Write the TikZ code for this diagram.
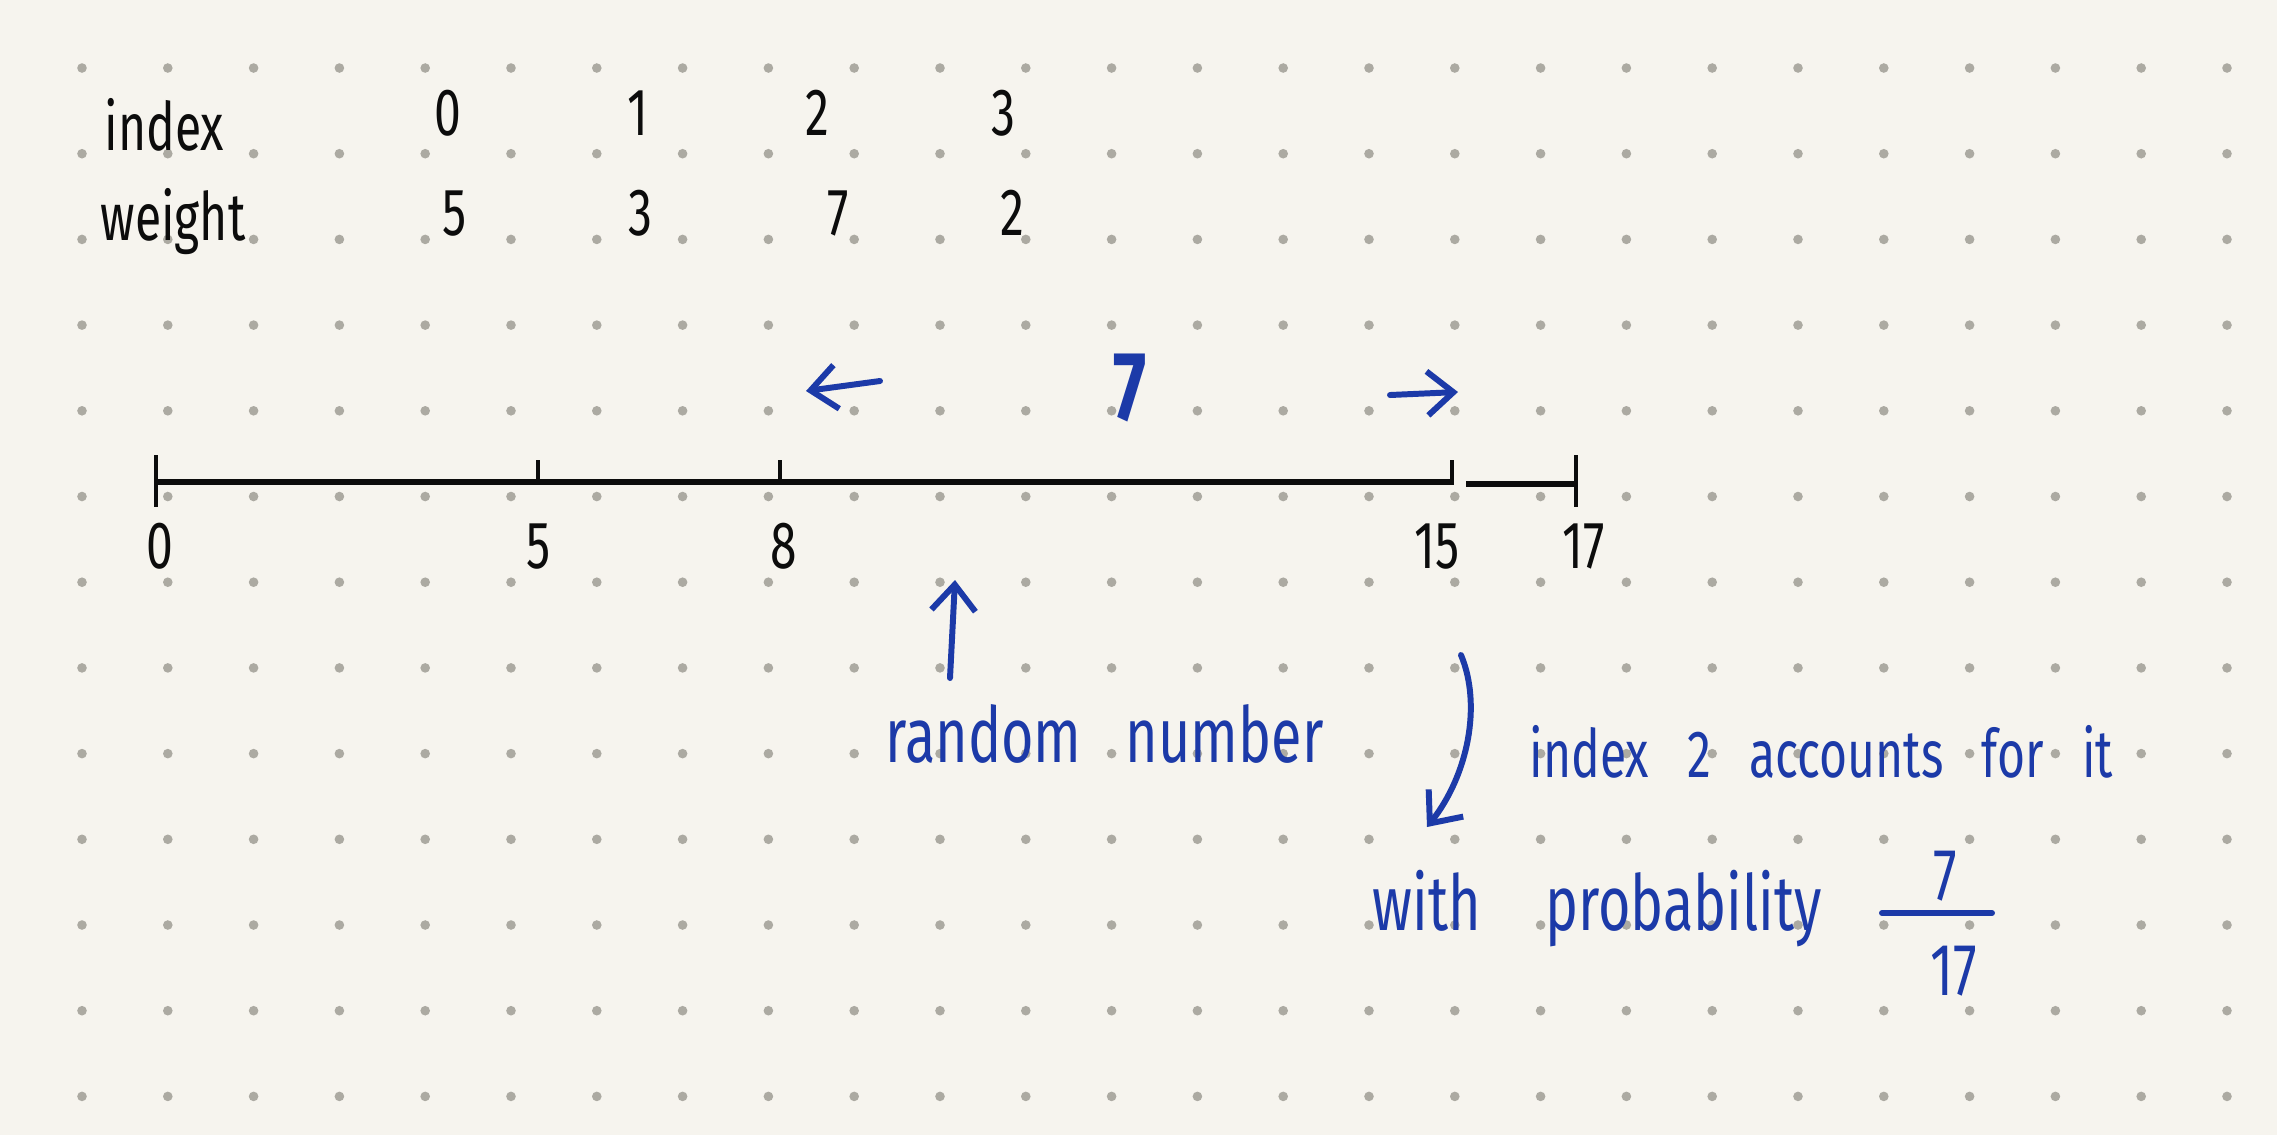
\documentclass[tikz,border=0pt]{standalone}
\usepackage{fontspec}
\setmainfont{Fira Sans}[FakeStretch=0.72]
\newfontfamily\penfont{Fira Sans}[FakeStretch=0.72,WordSpace=3]
\usetikzlibrary{arrows.meta}
\definecolor{paper}{RGB}{246,244,238}
\definecolor{dotgray}{RGB}{172,170,162}
\definecolor{pen}{RGB}{28,58,168}
\definecolor{ink}{RGB}{12,12,12}

\begin{document}
\begin{tikzpicture}[x=0.1mm,y=-0.1mm,
	every node/.style={inner sep=0pt},
	inktext/.style={text=ink,font=\fontsize{19}{22}\selectfont},
	pentext/.style={text=pen,font=\penfont\fontsize{19}{22}\selectfont},
	axis/.style={draw=ink,line width=1.7pt},
	tick/.style={draw=ink,line width=1.1pt},
	penline/.style={draw=pen,line width=1.7pt,line cap=round},
	penarrow/.style={penline,-{Straight Barb[length=2.6mm,width=4.4mm]}}]
	\fill[paper] (0,0) rectangle (2277,1135);
	\useasboundingbox (0,0) rectangle (2277,1135);
	\foreach \i in {0,...,25}
		\foreach \j in {0,...,12}
			\fill[dotgray] (82+85.8*\i,68+85.7*\j) circle (4.8);
	\node[inktext,anchor=base west] (idx) at (104,150) {index};
	\node[inktext,anchor=base west] (wgt) at (100,240) {weight};
	\foreach \x/\v in {448/0,638/1,817/2,1003/3}
		\node[inktext,anchor=base] (i\v) at (\x,135) {\v};
	\foreach \x/\k/\v in {455/0/5,640/1/3,838/2/7,1012/3/2}
		\node[inktext,anchor=base] (w\k) at (\x,235) {\v};
	\coordinate (t0) at (156,482);
	\coordinate (t5) at (538,482);
	\coordinate (t8) at (780,482);
	\coordinate (t15) at (1452,482);
	\coordinate (t17) at (1576,484);
	\draw[axis] (t0) -- (t15);
	\draw[axis] (t15) ++(14,2) -- (t17);
	\draw[tick] (t0) ++(0,-27) -- ++(0,52);
	\draw[tick] (t17) ++(0,-29) -- ++(0,52);
	\foreach \t in {t5,t8,t15}
		\draw[tick] (\t) ++(0,-22) -- ++(0,25);
	\foreach \x/\v in {160/0,539/5,784/8,1437/15,1584/17}
		\node[inktext,anchor=base] (n\v) at (\x,568) {\v};
	\coordinate (la) at (880,381);
	\coordinate (lb) at (806,391);
	\draw[penarrow] (la) -- (lb);
	\node[text=pen,font=\fontsize{28}{30}\selectfont\bfseries] (seven) at (1130,388) {7};
	\coordinate (ra) at (1390,395);
	\coordinate (rb) at (1458,392);
	\draw[penarrow] (ra) -- (rb);
	\node[pentext,font=\penfont\fontsize{22}{26}\selectfont,anchor=base west] (rnd) at (885,762) {random number};
	\coordinate (pick) at (955,580);
	\coordinate (tail) at (950,678);
	\draw[penarrow] (tail) -- (pick);
	\coordinate (c1) at (1461,655);
	\coordinate (c2) at (1427,827);
	\draw[penarrow] (c1) .. controls (1482,705) and (1468,775) .. (c2);
	\node[pentext,anchor=base west] (note) at (1529,777) {index 2 accounts for it};
	\node[pentext,font=\penfont\fontsize{22}{26}\selectfont,anchor=base west] (prob) at (1372,930) {with\hspace{2mm} probability};
	\node[pentext,font=\penfont\fontsize{21}{24}\selectfont,anchor=base] (num) at (1945,900) {7};
	\node[pentext,font=\penfont\fontsize{21}{24}\selectfont,anchor=base] (den) at (1954,995) {17};
	\coordinate (barl) at (1882,913);
	\coordinate (barr) at (1992,913);
	\draw[penline] (barl) -- (barr);
\end{tikzpicture}
\end{document}
